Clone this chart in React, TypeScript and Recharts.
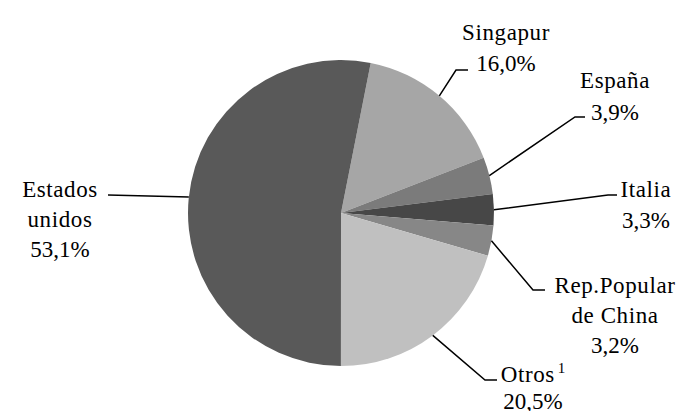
import React from 'react';
import { PieChart, Pie, Cell } from 'recharts';

const countries = ['Singapur', 'España', 'Italia', 'Rep.Popular de China', 'Otros', 'Estados unidos'];
const shares = [16.0, 3.9, 3.3, 3.2, 20.5, 53.1];
const nameLines = [['Singapur'], ['España'], ['Italia'], ['Rep.Popular', 'de China'], ['Otros'], ['Estados', 'unidos']];

const COLORS = ['#a6a6a6', '#7b7b7b', '#474747', '#878787', '#c0c0c0', '#595959'];

// label layout, offsets from pie centre: elbow, end of leader, text centre x, first baseline
const LABELS = [
    { elbow: [115, -143], end: [127, -143], tx: 165, ty: -173, gap: 31 },
    { elbow: [234, -96], end: [244, -96], tx: 274, ty: -125, gap: 32 },
    { elbow: [267, -18], end: [276, -18], tx: 305, ty: -16, gap: 31 },
    { elbow: [192, 77], end: [204, 77], tx: 274, ty: 80, gap: 30 },
    { elbow: [144, 167], end: [156, 167], tx: 192, ty: 169, gap: 27 },
    { elbow: [-233, -18], end: [-233, -18], tx: -281, ty: -16, gap: 30, angle: 174 },
];

const data = countries.map((name, i) => ({ name, value: shares[i] }));

const fmt = (v: number) => v.toFixed(1).replace('.', ',') + '%';

const FONT = "'Liberation Serif', 'Times New Roman', serif";

const renderLabel = (props: any) => {
    const { cx, cy, midAngle, outerRadius, index } = props;
    const cfg = LABELS[index];
    const RAD = Math.PI / 180;
    const a = (cfg.angle ?? midAngle) * RAD;
    const sx = cx + outerRadius * Math.cos(a);
    const sy = cy - outerRadius * Math.sin(a);
    const pts = `${sx},${sy} ${cx + cfg.elbow[0]},${cy + cfg.elbow[1]} ${cx + cfg.end[0]},${cy + cfg.end[1]}`;
    const lines = nameLines[index];
    return (
        <g key={`lbl-${index}`}>
            <polyline points={pts} fill="none" stroke="#000" strokeWidth={1.5} />
            <text textAnchor="middle" fontFamily={FONT} fontSize={23} fill="#000">
                {lines.map((l, j) => (
                    <tspan key={j} x={cx + cfg.tx} y={cy + cfg.ty + j * cfg.gap} letterSpacing={0.6}>
                        {l}
                        {index === 4 && j === 0 ? (
                            <tspan fontSize={15} dx={3} dy={-9} letterSpacing={0}>1</tspan>
                        ) : null}
                    </tspan>
                ))}
                <tspan x={cx + cfg.tx} y={cy + cfg.ty + lines.length * cfg.gap}>
                    {fmt(shares[index])}
                </tspan>
            </text>
        </g>
    );
};

const App = () => {
    return (
        <div style={{ position: 'absolute', left: 0, top: 0, width: 678, height: 411, background: '#fff' }}>
            <PieChart width={678} height={411}>
                <Pie
                    data={data}
                    dataKey="value"
                    nameKey="name"
                    cx={336}
                    cy={208}
                    outerRadius={153}
                    startAngle={78.8}
                    endAngle={-281.2}
                    stroke="none"
                    label={renderLabel}
                    labelLine={false}
                    isAnimationActive={false}
                >
                    {data.map((entry, index) => (
                        <Cell key={`cell-${index}`} fill={COLORS[index]} />
                    ))}
                </Pie>
            </PieChart>
        </div>
    );
};

export default App;
